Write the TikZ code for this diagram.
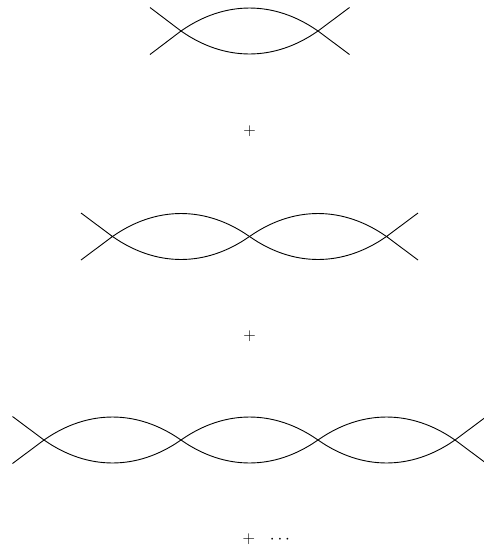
\documentclass[tikz,border=0pt]{standalone}
\begin{document}
\begin{tikzpicture}[x=1pt,y=-1pt,
  prop/.style={line width=0.9pt},
  bub/.style={prop,bend left=35},
  bubr/.style={prop,bend right=35},
  term/.style={font=\fontsize{17}{20}\selectfont, inner sep=0pt}]
\useasboundingbox (0,0) rectangle (484,555);
% row 1
\coordinate (a1) at (181,31);
\coordinate (a2) at (318,31);
\coordinate (l1u) at (150,7.5);
\coordinate (l1d) at (150,54.5);
\coordinate (r1u) at (349.5,7.5);
\coordinate (r1d) at (349.5,54.5);
\draw[prop] (l1u) -- (a1) (l1d) -- (a1) (a2) -- (r1u) (a2) -- (r1d);
\draw[bubr] (a1) to (a2);
\draw[bub] (a1) to (a2);
\node[term] (p1) at (249.5,131) {$+$};
% row 2
\coordinate (b1) at (112.5,236.5);
\coordinate (b2) at (249.5,236.5);
\coordinate (b3) at (386.5,236.5);
\coordinate (l2u) at (81,213);
\coordinate (l2d) at (81,260);
\coordinate (r2u) at (418,213);
\coordinate (r2d) at (418,260);
\draw[prop] (l2u) -- (b1) (l2d) -- (b1) (b3) -- (r2u) (b3) -- (r2d);
\draw[bubr] (b1) to (b2);
\draw[bub] (b1) to (b2);
\draw[bubr] (b2) to (b3);
\draw[bub] (b2) to (b3);
\node[term] (p2) at (249.5,336) {$+$};
% row 3
\coordinate (c1) at (44,440);
\coordinate (c2) at (181,440);
\coordinate (c3) at (318,440);
\coordinate (c4) at (455,440);
\coordinate (l3u) at (12.5,416.5);
\coordinate (l3d) at (12.5,463.5);
\coordinate (r3u) at (486.5,416.5);
\coordinate (r3d) at (486.5,463.5);
\draw[prop] (l3u) -- (c1) (l3d) -- (c1) (c4) -- (r3u) (c4) -- (r3d);
\draw[bubr] (c1) to (c2);
\draw[bub] (c1) to (c2);
\draw[bubr] (c2) to (c3);
\draw[bub] (c2) to (c3);
\draw[bubr] (c3) to (c4);
\draw[bub] (c3) to (c4);
\node[term, anchor=west] (p3) at (242.5,539) {$+\hspace{0.7em}\cdots$};
\end{tikzpicture}
\end{document}
